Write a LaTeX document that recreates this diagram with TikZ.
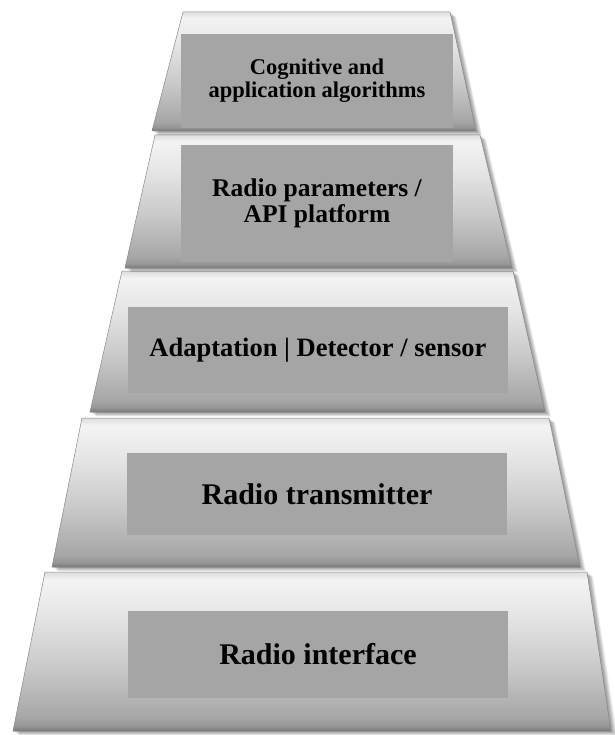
\documentclass[tikz,border=0pt]{standalone}
\usepackage{fontspec}
\setmainfont{Liberation Serif}

% Tier colours
\definecolor{tierEdge}{HTML}{787878}
\definecolor{tierLow}{HTML}{959595}
\definecolor{tierLow2}{HTML}{A6A6A6}
\definecolor{tierMid}{HTML}{C9C9C9}
\definecolor{tierHigh}{HTML}{E6E6E6}
\definecolor{tierTop}{HTML}{F3F3F3}
\definecolor{tierRim}{HTML}{DDDDDD}
\definecolor{labelFill}{HTML}{A5A5A5}
\definecolor{tierLine}{HTML}{888888}

% Vertical gradient of a tier: the inner band 25bp..75bp spans the tier
\pgfdeclareverticalshading{tiershade}{100bp}{%
  color(0bp)=(tierEdge); color(25bp)=(tierEdge); color(26.5bp)=(tierLow);
  color(29bp)=(tierLow2); color(45bp)=(tierMid); color(62bp)=(tierHigh);
  color(72.5bp)=(tierTop); color(75bp)=(tierRim); color(100bp)=(tierRim)}

\tikzset{
  labelbox/.style={fill=labelFill, inner sep=0pt, align=center,
    text=black, font=\bfseries},
  tierbody/.style={shading=tiershade, draw=tierLine, line width=0.5pt},
  tiershadow/.style={fill=black, fill opacity=0.06, draw=none},
}

% One tier of the pyramid: soft shadow, shaded trapezoid
\newcommand\tier[4]{%
  \foreach \k in {1,...,8}{%
    \path[tiershadow, shift={(0.75*\k,0.55*\k)}] #1 -- #2 -- #3 -- #4 -- cycle;}
  \path[tierbody] #1 -- #2 -- #3 -- #4 -- cycle;
}

\begin{document}
\begin{tikzpicture}[x=1pt, y=-1pt]
  \useasboundingbox (0,0) rectangle (614,735);

  % tiers, base first so each upper tier casts its shadow on the one below
  \tier{(45,572)}{(587,572)}{(611,731)}{(13,731)}
  \node[labelbox, minimum width=380pt, minimum height=87pt,
        font=\bfseries\fontsize{30}{30}\selectfont] (iface) at (318,654.5)
        {Radio interface};

  \tier{(82,418)}{(549,418)}{(580,567)}{(52,567)}
  \node[labelbox, minimum width=380pt, minimum height=82pt,
        font=\bfseries\fontsize{30}{30}\selectfont] (tx) at (317,494)
        {Radio transmitter};

  \tier{(122,271)}{(513,271)}{(545,412)}{(90,412)}
  \node[labelbox, minimum width=380pt, minimum height=86pt,
        font=\bfseries\fontsize{26.5}{27}\selectfont] (adapt) at (318,350)
        {Adaptation | Detector / sensor};

  \tier{(155,135)}{(480,135)}{(512,268)}{(125,268)}
  \node[labelbox, minimum width=272pt, minimum height=117pt,
        font=\bfseries\fontsize{25.5}{25.5}\selectfont] (params) at (317,203.5)
        {Radio parameters /\\API platform};

  \tier{(183,12)}{(450,12)}{(476,131)}{(152,131)}
  \node[labelbox, minimum width=272pt, minimum height=94pt,
        font=\bfseries\fontsize{22.5}{23}\selectfont] (cogn) at (317,81)
        {Cognitive and\\application algorithms};
\end{tikzpicture}
\end{document}
